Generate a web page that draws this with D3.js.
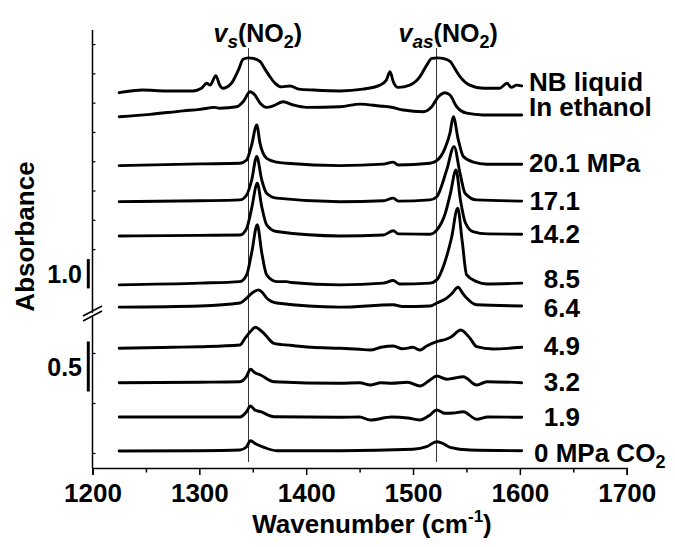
<!DOCTYPE html>
<html><head><meta charset="utf-8">
<script src="https://cdn.jsdelivr.net/npm/d3@7"></script>
<style>body{margin:0;background:#fff}text{font-family:"Liberation Sans",Arial,sans-serif;font-weight:bold;fill:#000}</style>
</head><body><svg id="c" width="675" height="547"></svg>
<script>
// ---------------- data ----------------
const seriesLabels = ["NB liquid","In ethanol","20.1 MPa","17.1","14.2","8.5","6.4","4.9","3.2","1.9","0 MPa CO2"];
const offsets = [8.92, 8.10, 6.43, 5.20, 4.03, 2.36, 1.60, 1.047, 0.703, 0.36, 0.02];

const specNB = [[1225,0],[1247,0.09],[1269,0.06],[1294,0.06],[1302,0.15],[1307,0.32],[1310,0.26],[1315.5,0.58],[1319,0.26],[1322,0.15],[1330,0.32],[1336.5,0.77],[1341,1.14],[1346,1.19],[1350.5,1.17],[1357,1.06],[1361,0.83],[1366,0.55],[1371,0.32],[1377,0.20],[1385,0.23],[1393,0.12],[1407,0.09],[1432,0.06],[1453,0.12],[1469,0.26],[1475,0.43],[1478.5,0.72],[1481.5,0.38],[1486,0.18],[1497,0.26],[1506.5,0.55],[1513,0.95],[1517.5,1.17],[1523,1.19],[1528,1.17],[1535,1.06],[1539,0.83],[1544,0.55],[1553,0.26],[1566,0.15],[1581,0.15],[1588,0.32],[1592,0.18],[1597,0.26],[1601.7,0.23]];
const specEthanol = [[1225,0],[1254,0.08],[1285,0.20],[1300.5,0.25],[1314.5,0.32],[1319,0.29],[1335,0.34],[1341,0.51],[1347.5,0.85],[1352,0.74],[1357,0.46],[1363,0.32],[1369,0.37],[1378.5,0.51],[1388,0.40],[1400.5,0.32],[1431.7,0.34],[1450.5,0.43],[1469,0.365],[1478.5,0.33],[1491,0.23],[1509.6,0.17],[1517.5,0.34],[1523.7,0.68],[1529.9,0.82],[1534.6,0.74],[1540.9,0.34],[1550.2,0.12],[1565.8,0.06],[1601.7,0.06]];
const spec201 = [[1225,0],[1300.6,0.06],[1338,0.08],[1344.3,0.19],[1349,0.71],[1353.7,1.39],[1356.8,0.76],[1363,0.25],[1372.4,0.12],[1381.8,0.08],[1431.7,0],[1472.2,0.05],[1481.5,0.12],[1486.2,0.02],[1515.9,0.08],[1522.2,0.17],[1529.9,0.59],[1534.6,1.11],[1537.7,1.67],[1542.4,0.88],[1547.1,0.31],[1556.4,0.12],[1569,0.05],[1601.7,0.05]];
const spec171 = [[1225,0],[1300.6,0.03],[1338,0.06],[1344.3,0.23],[1349,0.74],[1353.7,1.54],[1358.4,0.74],[1363,0.29],[1372.4,0.12],[1431.7,0],[1472.2,0.03],[1481.5,0.12],[1486.2,0.02],[1515.9,0.06],[1522.2,0.17],[1531.5,1.08],[1538.4,1.88],[1544,0.97],[1548.7,0.29],[1559.6,0.06],[1601.7,0.02]];
const spec142 = [[1225,0],[1300,0.02],[1338,0.03],[1344.3,0.26],[1349,0.95],[1354.2,1.80],[1358.4,1.0],[1363,0.38],[1372.4,0.15],[1431.7,0],[1472.2,0.03],[1481.5,0.18],[1486.2,0.07],[1515.9,0.06],[1522.2,0.20],[1530,0.75],[1535,1.45],[1540.2,2.25],[1544.5,1.2],[1549,0.45],[1556,0.15],[1570,0.07],[1601.7,0.06]];
const spec85 = [[1225,0],[1300.6,0.06],[1338,0.11],[1344.3,0.34],[1349,1.1],[1354.2,2.05],[1358.4,1.1],[1363,0.34],[1372.4,0.11],[1381.8,0.11],[1386,0.08],[1431.7,0],[1472.2,0.06],[1481.5,0.15],[1487.4,0.03],[1515.9,0.06],[1522.2,0.17],[1530,0.8],[1536,1.6],[1541.8,2.62],[1546,1.5],[1550.2,0.34],[1559.6,0.11],[1569,0.03],[1601.7,0.06]];
const spec64 = [[1225,0],[1300.6,0.04],[1338,0.14],[1344.3,0.31],[1350,0.5],[1355.5,0.59],[1359,0.5],[1363,0.31],[1372.4,0.14],[1431.7,0],[1481.5,0.08],[1490,0.02],[1515.9,0.04],[1522.2,0.14],[1531.5,0.31],[1536,0.45],[1542.2,0.68],[1546,0.5],[1550.2,0.31],[1559.6,0.08],[1601.7,0.04]];
const spec49 = [[1225,0],[1250,0.005],[1275,0.01],[1300.6,0.016],[1338,0.033],[1342.7,0.10],[1348,0.17],[1352.6,0.21],[1356,0.19],[1360.4,0.15],[1369.8,0.05],[1385,0.03],[1405,0.01],[1431.7,0],[1450,-0.01],[1460,-0.017],[1470,0.01],[1481.5,0.023],[1490,-0.005],[1500,0.01],[1506.5,-0.017],[1512.8,0.023],[1522.2,0.066],[1531.5,0.093],[1536,0.116],[1544.7,0.183],[1553.3,0.10],[1559.6,0.016],[1575,-0.007],[1590,0.0],[1601.7,0.01]];
const spec32 = [[1225,0],[1300,0.005],[1338,0.01],[1344,0.06],[1347.9,0.134],[1352,0.10],[1357.3,0.077],[1369.8,0.01],[1431.7,-0.006],[1450,0.0],[1460,-0.023],[1470,0.0],[1480,-0.005],[1495,0.005],[1506.5,-0.033],[1515.9,0.027],[1522.2,0.067],[1531.5,0.034],[1538,0.045],[1547,0.06],[1559.6,-0.023],[1569,0.01],[1601.7,0]];
const spec19 = [[1225,0],[1300,0.0],[1338,0.0],[1344,0.05],[1347.9,0.11],[1352,0.07],[1357.3,0.053],[1369.8,0.003],[1431.7,-0.003],[1450,0.0],[1460,-0.03],[1480,0.0],[1495,-0.01],[1506.5,-0.03],[1515.9,0.02],[1522.2,0.07],[1530,0.037],[1538,0.04],[1547,0.053],[1559.6,-0.023],[1570,0.0],[1601.7,-0.003]];
const spec0 = [[1225,0],[1300,0.003],[1338,0.01],[1344,0.04],[1347.9,0.103],[1353,0.07],[1360.4,0.037],[1372.4,0.003],[1431.7,0.003],[1500,0.017],[1512.8,0.043],[1522.2,0.093],[1527,0.08],[1534.6,0.037],[1553.3,0.01],[1601.7,0.003]];

const spectra = [specNB, specEthanol, spec201, spec171, spec142, spec85, spec64, spec49, spec32, spec19, spec0];

const xTicks = [1200,1300,1400,1500,1600,1700];
const xMinorTicks = [1250,1350,1450,1550,1650];
const yTicksLower = [0, 0.5, 1.0];
const yTicksUpper = [3.58, 4.58, 5.58, 6.58, 7.58, 8.58, 9.58, 10.58];
const bandPositions = [1346, 1522];
const scaleBars = [{label:"1.0", from:2.24, to:3.24},{label:"0.5", from:0.615, to:1.115}];
const yBreak = 1.40;

// ---------------- layout ----------------
const svg = d3.select("#c");
const x = d3.scaleLinear().domain([1200,1700]).range([92.5,626.7]);
const y = d3.scaleLinear().domain([-0.15, yBreak, 11.06]).range([468, 313, 30]);
const labelDy = [4.8, 1, 7.4, 9, 9.3, 5, 10.7, 7.7, 8, 8.7, 11];

// band reference lines
svg.selectAll("line.band").data(bandPositions).enter().append("line")
  .attr("x1",d=>x(d)).attr("x2",d=>x(d)).attr("y1",48).attr("y2",462)
  .attr("stroke","#333").attr("stroke-width",1);

// spectra
const line = d3.line().x(d=>x(d[0])).y(d=>d[1]).curve(d3.curveMonotoneX);
spectra.forEach((s,i)=>{
  const pts = s.map(p=>[p[0], y(offsets[i]+p[1])]);
  svg.append("path").attr("d", line(pts)).attr("fill","none")
    .attr("stroke","#000").attr("stroke-width",2.9).attr("stroke-linejoin","round").attr("stroke-linecap","round");
  const last = s[s.length-1];
  const yy = y(offsets[i]+last[1]) + labelDy[i];
  const isText = /[A-Za-z]/.test(seriesLabels[i]);
  const t = svg.append("text").attr("font-size",26).attr("y",yy);
  if (isText) t.attr("x", seriesLabels[i].startsWith("0") ? 534 : 529).attr("text-anchor","start");
  else t.attr("x", 580).attr("text-anchor","end");
  if (seriesLabels[i].endsWith("CO2")) {
    t.append("tspan").text(seriesLabels[i].slice(0,-1));
    t.append("tspan").attr("font-size",18).attr("dy",6).text("2");
  } else t.text(seriesLabels[i]);
});

// x axis
const gx = svg.append("g").attr("transform","translate(0,468)");
gx.call(d3.axisBottom(x).tickValues(xTicks).tickSize(7).tickPadding(9).tickFormat(d3.format("d")));
gx.selectAll("text").attr("font-size",26).attr("font-family",'"Liberation Sans",Arial,sans-serif').attr("font-weight","bold");
gx.select(".domain").attr("stroke-width",1.5);
gx.selectAll(".tick line").attr("stroke-width",1.5);
const gxm = svg.append("g").attr("transform","translate(0,468)");
gxm.call(d3.axisBottom(x).tickValues(xMinorTicks).tickSize(4.5).tickFormat(""));
gxm.select(".domain").remove();
gxm.selectAll(".tick line").attr("stroke-width",1.5);

// y axis (ticks inward)
const gy = svg.append("g").attr("transform","translate(92.5,0)");
gy.call(d3.axisRight(y).tickValues(yTicksLower.concat(yTicksUpper)).tickSize(3).tickFormat(""));
gy.select(".domain").remove();
gy.selectAll(".tick line").attr("stroke-width",1.2);
svg.append("line").attr("x1",92.5).attr("x2",92.5).attr("y1",y(11.06)).attr("y2",y(-0.15))
  .attr("stroke","#000").attr("stroke-width",1.5);

// axis break
const yb = y(yBreak);
svg.append("polygon").attr("points",`83,${yb+5} 102,${yb-5} 102,${yb-1} 83,${yb+9}`).attr("fill","#fff");
[[yb+3],[yb+8]].forEach(o=>{
  svg.append("line").attr("x1",83).attr("y1",o[0]).attr("x2",102).attr("y2",o[0]-10)
    .attr("stroke","#000").attr("stroke-width",1.5);
});

// scale bars
scaleBars.forEach(b=>{
  svg.append("line").attr("x1",88.3).attr("x2",88.3).attr("y1",y(b.from)).attr("y2",y(b.to))
    .attr("stroke","#000").attr("stroke-width",3);
  svg.append("text").attr("font-size",25).attr("text-anchor","end").attr("x",82)
    .attr("y",(y(b.from)+y(b.to))/2+9).text(b.label);
});

// axis titles
const xt = svg.append("text").attr("font-size",26).attr("text-anchor","middle").attr("x",372).attr("y",533);
xt.append("tspan").text("Wavenumber (cm");
xt.append("tspan").attr("font-size",17).attr("dy",-11).text("-1");
xt.append("tspan").attr("dy",11).text(")");
svg.append("text").attr("font-size",26).attr("text-anchor","middle")
  .attr("transform","translate(34,236.5) rotate(-90)").text("Absorbance");

// band labels
function bandLabel(xpos, sub){
  const t = svg.append("text").attr("font-size",25).attr("x",xpos).attr("y",42);
  t.append("tspan").attr("font-style","italic").text("v");
  t.append("tspan").attr("font-style","italic").attr("font-size",19).attr("dy",6).text(sub);
  t.append("tspan").attr("dy",-6).text("(NO");
  t.append("tspan").attr("font-size",18).attr("dy",6).text("2");
  t.append("tspan").attr("dy",-6).text(")");
}
bandLabel(x(bandPositions[0]) - 35, "s");
bandLabel(x(bandPositions[1]) - 38, "as");
</script></body></html>
